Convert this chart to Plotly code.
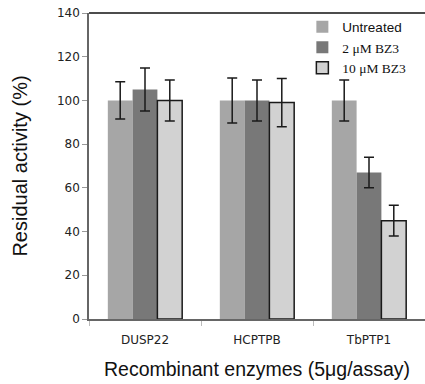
import plotly.graph_objects as go

categories = ["DUSP22", "HCPTPB", "TbPTP1"]
series_names = ["Untreated", "2 μM BZ3", "10 μM BZ3"]
untreated = [100, 100, 100]
untreated_err = [8.5, 10.3, 9.4]
bz3_2 = [105, 100, 67]
bz3_2_err = [9.8, 9.4, 7]
bz3_10 = [100, 99, 45]
bz3_10_err = [9.4, 11, 7]
y_ticks = [0, 20, 40, 60, 80, 100, 120, 140]

fig = go.Figure()
fonts = ["Liberation Sans, Arial", "Liberation Serif, Times New Roman",
         "Liberation Serif, Times New Roman"]
vals = [untreated, bz3_2, bz3_10]
errs = [untreated_err, bz3_2_err, bz3_10_err]
colors = ["#a6a6a6", "#787878", "#d2d2d2"]
lines = [0, 0, 1.5]
for name, f, v, e, c, lw in zip(series_names, fonts, vals, errs, colors, lines):
    fig.add_trace(go.Bar(
        x=categories, y=v,
        name=f'<span style="font-family:{f}">{name}</span>',
        marker=dict(color=c, line=dict(color="#1a1a1a", width=lw)),
        error_y=dict(type="data", array=e, visible=True, color="#1a1a1a",
                     thickness=1.5, width=5),
    ))

fig.update_layout(
    width=425, height=384,
    margin=dict(l=89, r=0, t=13, b=65, autoexpand=False),
    plot_bgcolor="white", paper_bgcolor="white",
    barmode="group", bargap=0.336, bargroupgap=0,
    showlegend=True,
    legend=dict(x=0.635, y=1.005, xanchor="left", yanchor="top",
                font=dict(size=13.5, color="#111"), bgcolor="rgba(0,0,0,0)",
                tracegroupgap=0, itemwidth=30),
    font=dict(family="DejaVu Sans", color="#222"),
    shapes=[dict(type="line", xref="paper", yref="paper", x0=0, x1=1, y0=1, y1=1,
                 line=dict(color="#111", width=1.5))],
)
fig.update_xaxes(
    type="category", range=[-0.5, 2.5], automargin=False,
    showline=True, linecolor="#666", linewidth=1.5,
    ticks="outside", tickson="boundaries", ticklen=5, tickcolor="#bbb",
    ticklabelstandoff=9,
    tickfont=dict(size=12, family="DejaVu Sans", color="#222"),
    title=dict(text="Recombinant enzymes (5μg/assay)",
               font=dict(size=19.5, family="Liberation Sans, Arial", color="#111"),
               standoff=16),
)
fig.update_yaxes(
    range=[0, 140], tickvals=y_ticks, showgrid=False, zeroline=False,
    automargin=False,
    showline=True, linecolor="#666", linewidth=1.5,
    ticks="outside", ticklen=5, tickcolor="#999",
    tickfont=dict(size=12, family="DejaVu Sans", color="#222"),
    title=dict(text="Residual activity (%)",
               font=dict(size=20, family="Liberation Sans, Arial", color="#111"),
               standoff=24),
)
fig.write_html("out.html", config={"displayModeBar": False},
               post_script="document.body.style.margin='0';document.body.style.overflow='hidden';")
